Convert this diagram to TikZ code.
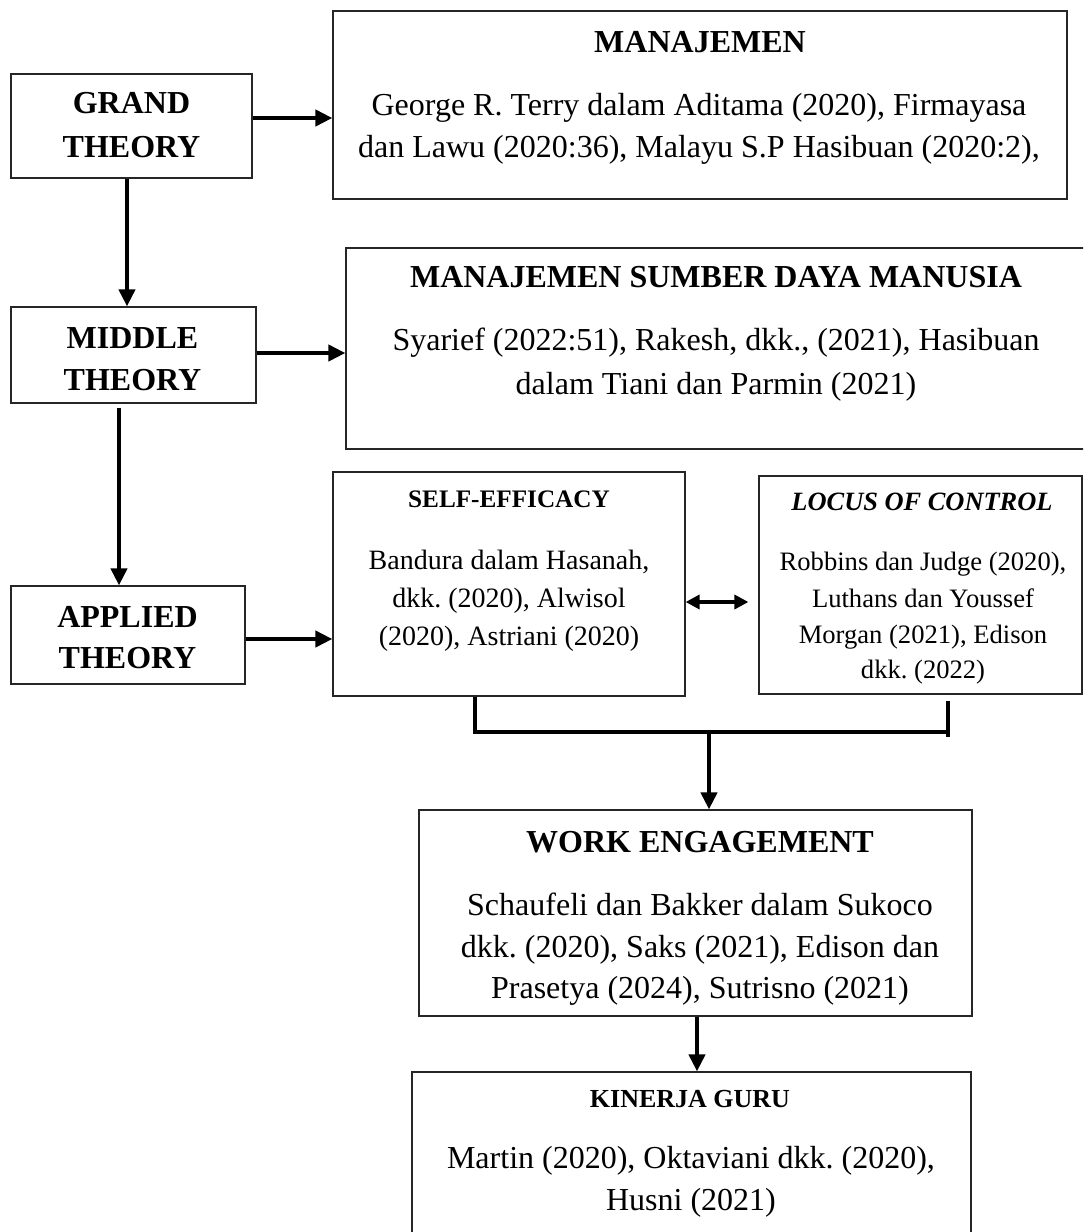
\documentclass[tikz,border=0pt]{standalone}
\usepackage{fontspec}
\setmainfont{Liberation Serif}
\usetikzlibrary{arrows.meta}
\frenchspacing
\tikzset{
  box/.style={draw=black!85, line width=0.6pt, inner sep=0pt, fill=none},
  ttl/.style={font=\bfseries\fontsize{16}{19}\selectfont, anchor=base, inner sep=0pt},
  bd/.style={font=\fontsize{16}{19}\selectfont, anchor=base, inner sep=0pt},
  sttl/.style={font=\bfseries\fontsize{12.6}{15}\selectfont, anchor=base, inner sep=0pt},
  sbd/.style={font=\fontsize{14}{17}\selectfont, anchor=base, inner sep=0pt},
  lttl/.style={font=\bfseries\itshape\fontsize{13.2}{16}\selectfont, anchor=base, inner sep=0pt},
  lbd/.style={font=\fontsize{13.3}{16}\selectfont, anchor=base, inner sep=0pt},
  kttl/.style={font=\bfseries\fontsize{13}{16}\selectfont, anchor=base, inner sep=0pt},
  arr/.style={line width=2pt, -{Triangle[length=8.5pt,width=8pt]}},
  darr/.style={line width=1.7pt, {Triangle[length=7pt,width=7pt]}-{Triangle[length=7pt,width=7pt]}},
  conn/.style={line width=2pt, line join=miter},
}
\begin{document}
\begin{tikzpicture}[x=0.5pt,y=-0.5pt]
\useasboundingbox (0,0) rectangle (1083,1232);
\clip (0,0) rectangle (1083,1232);
\fill[white] (0,0) rectangle (1083,1232);

% boxes
\node[box, minimum width=120.5pt, minimum height=52pt] (grand) at (131.5,126) {};
\node[box, minimum width=367pt, minimum height=94pt] (manaj) at (700,105) {};
\node[box, minimum width=122.5pt, minimum height=48pt] (middle) at (133.5,355) {};
\node[box, minimum width=370pt, minimum height=100.5pt] (msdm) at (716,348.5) {};
\node[box, minimum width=117pt, minimum height=49pt] (applied) at (128,635) {};
\node[box, minimum width=176pt, minimum height=112pt] (se) at (509,584) {};
\node[box, minimum width=161.5pt, minimum height=109pt] (loc) at (920.5,585) {};
\node[box, minimum width=276.5pt, minimum height=103pt] (we) at (695.5,913) {};
\node[box, minimum width=279.5pt, minimum height=89pt] (kg) at (691.5,1161) {};

% left column texts
\node[ttl] (g1) at (131.5,113) {GRAND};
\node[ttl] (g2) at (131.5,157) {THEORY};
\node[ttl] (m1) at (132.5,348) {MIDDLE};
\node[ttl] (m2) at (132.5,390) {THEORY};
\node[ttl] (ap1) at (127.5,627) {APPLIED};
\node[ttl] (ap2) at (127.5,668) {THEORY};

% manajemen
\node[ttl] (mt) at (700,52) {MANAJEMEN};
\node[bd] (mb1) at (699,115) {George R. Terry dalam Aditama (2020), Firmayasa};
\node[bd] (mb2) at (699,157) {dan Lawu (2020:36), Malayu S.P Hasibuan (2020:2),};

% msdm
\node[ttl] (st) at (716,287) {MANAJEMEN SUMBER DAYA MANUSIA};
\node[bd] (sb1) at (716,350) {Syarief (2022:51), Rakesh, dkk., (2021), Hasibuan};
\node[bd] (sb2) at (716,394) {dalam Tiani dan Parmin (2021)};

% self-efficacy
\node[sttl] (et) at (509,507) {SELF-EFFICACY};
\node[sbd] (eb1) at (509,569) {Bandura dalam Hasanah,};
\node[sbd] (eb2) at (509,607) {dkk. (2020), Alwisol};
\node[sbd] (eb3) at (509,645) {(2020), Astriani (2020)};

% locus of control
\node[lttl] (lt) at (922,510) {LOCUS OF CONTROL};
\node[lbd] (lb1) at (923,570) {Robbins dan Judge (2020),};
\node[lbd] (lb2) at (923,607) {Luthans dan Youssef};
\node[lbd] (lb3) at (923,643) {Morgan (2021), Edison};
\node[lbd] (lb4) at (923,678) {dkk. (2022)};

% work engagement
\node[ttl] (wt) at (700,852) {WORK ENGAGEMENT};
\node[bd] (wb1) at (700,915) {Schaufeli dan Bakker dalam Sukoco};
\node[bd] (wb2) at (700,957) {dkk. (2020), Saks (2021), Edison dan};
\node[bd] (wb3) at (700,998) {Prasetya (2024), Sutrisno (2021)};

% kinerja guru
\node[kttl] (kt) at (690,1107) {KINERJA GURU};
\node[bd] (kb1) at (691,1168) {Martin (2020), Oktaviani dkk. (2020),};
\node[bd] (kb2) at (691,1210) {Husni (2021)};

% connectors
\draw[arr] (grand.east |- 0,118) -- (manaj.west |- 0,118);
\draw[arr] (grand.south -| 127,0) -- (middle.north -| 127,0);
\draw[arr] (middle.east |- 0,353) -- (msdm.west |- 0,353);
\draw[arr, shorten <=2pt] (middle.south -| 119,0) -- (applied.north -| 119,0);
\draw[arr] (applied.east |- 0,639) -- (se.west |- 0,639);
\draw[darr, shorten >=5pt] (se.east |- 0,602) -- (loc.west |- 0,602);

\coordinate (jl) at (475,732);
\coordinate (jr) at (948,732);
\coordinate (jc) at (709,732);
\draw[conn] (se.south -| jl) -- (jl) -- (jr);
\draw[conn, shorten <=3pt, shorten >=-2.5pt] (loc.south -| jr) -- (jr);
\draw[arr] (jc) -- (we.north -| jc);
\draw[arr] (we.south -| 697,0) -- (kg.north -| 697,0);
\end{tikzpicture}
\end{document}
